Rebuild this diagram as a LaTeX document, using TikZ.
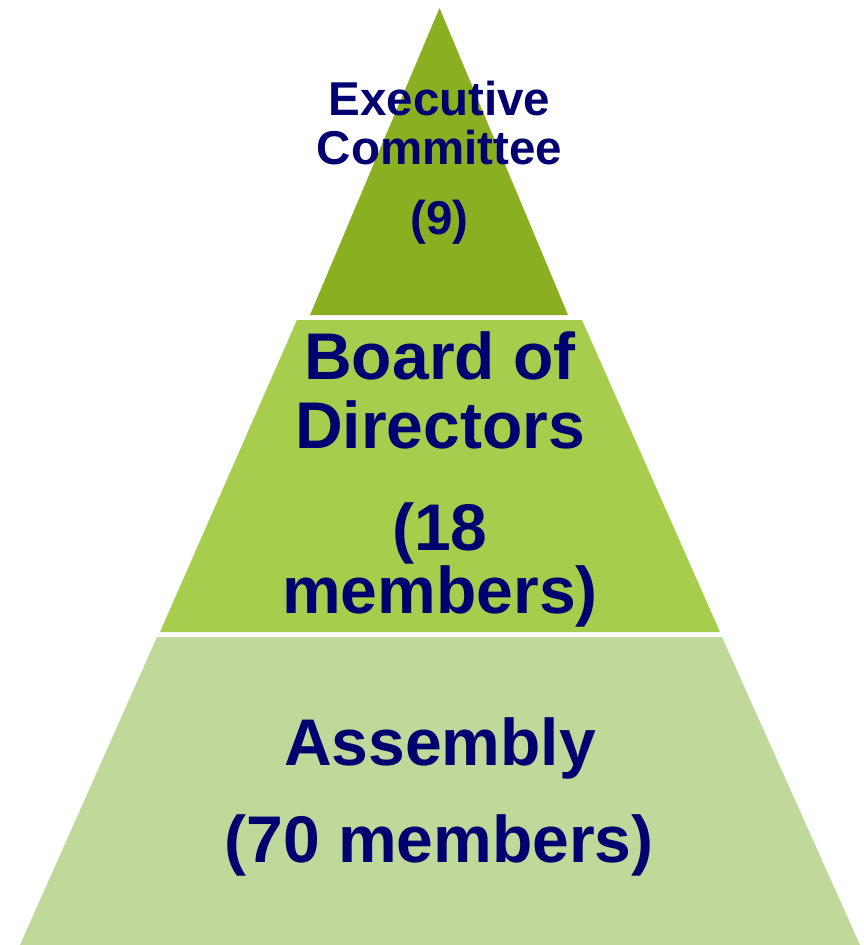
\documentclass[tikz,border=0pt]{standalone}
\usepackage{fontspec}
\setmainfont{Liberation Sans}
\definecolor{tiertop}{RGB}{138,176,34}
\definecolor{tiermid}{RGB}{166,206,76}
\definecolor{tierbase}{RGB}{192,216,153}
\definecolor{labelnavy}{RGB}{0,0,112}
\tikzset{
  tier/.style={draw=none},
  lbl/.style={anchor=base, inner sep=0pt, text=labelnavy, font=\bfseries},
  small/.style={lbl, font=\fontsize{47.5}{47.5}\selectfont\bfseries},
  large/.style={lbl, font=\fontsize{66}{66}\selectfont\bfseries},
}
\begin{document}
\begin{tikzpicture}[x=1pt,y=-1pt]
  \useasboundingbox (0,0) rectangle (863,945);
  % pyramid tiers
  \fill[tier, tiertop] (439.5,8) -- (568,315) -- (310,315) -- cycle;
  \fill[tier, tiermid] (297,320) -- (582,320) -- (720,632) -- (160,632) -- cycle;
  \fill[tier, tierbase] (157,637) -- (722,637) -- (860,945) -- (20,945) -- cycle;
  % top tier
  \node[small] (exec1) at (439.5,115) {Executive};
  \node[small] (exec2) at (439.5,164) {Committee};
  \node[small] (exec3) at (439.5,234) {(9)};
  % middle tier
  \node[large] (board1) at (440,379) {Board of};
  \node[large] (board2) at (440,448) {Directors};
  \node[large] (board3) at (440,550) {(18};
  \node[large] (board4) at (440,613) {members)};
  % base tier
  \node[large] (assem1) at (440,765) {Assembly};
  \node[large] (assem2) at (439,862) {(70 members)};
\end{tikzpicture}
\end{document}
